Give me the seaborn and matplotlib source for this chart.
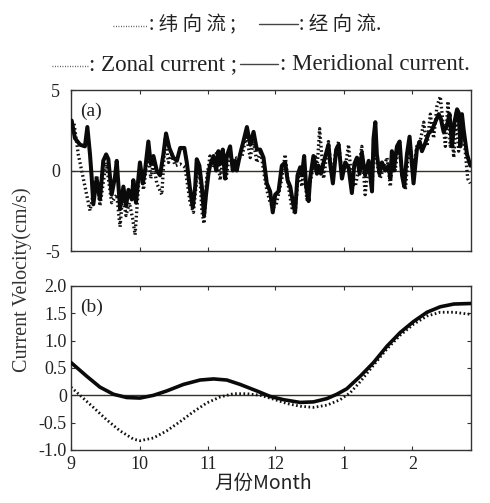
import numpy as np
import pandas as pd
import seaborn as sns
import matplotlib
matplotlib.use("Agg")
import matplotlib.pyplot as plt
from matplotlib.lines import Line2D

# ---------------- data (days since 1 Sep) ----------------
# panel (a): raw currents (cm/s)
a_mer_day = [0.3, 1.8, 4.1, 6.3, 7.4, 8.6, 9.4, 10.1, 11.6, 13.1, 14.6, 15.9, 16.9, 18.4, 19.9, 20.7,
             22.2, 23.7, 24.9, 26.0, 27.5, 28.2, 29.4, 30.5, 31.2, 32.5, 33.5, 35.0, 36.1, 37.3, 38.8,
             40.3, 41.8, 43.0, 44.5, 46.3, 47.9, 49.4, 51.3, 52.4, 53.9, 55.1, 56.2, 56.9, 58.1, 59.2,
             60.2, 61.1, 62.2, 62.9, 64.5, 65.7, 66.7, 67.5, 68.7, 69.7, 70.5, 72.0, 73.2, 74.3, 75.0,
             76.5, 78.0, 79.6, 81.1, 82.6, 84.1, 85.6, 87.1, 88.6, 90.1, 91.3, 92.4, 93.9, 95.4, 96.9,
             98.0, 99.2, 100.7, 101.4, 102.5, 103.7, 104.5, 105.5, 106.4, 107.5, 108.2, 109.7, 111.3,
             112.0, 113.1, 114.3, 116.5, 117.3, 118.5, 120.0, 121.1, 122.6, 124.1, 125.6, 127.1, 128.2,
             129.4, 130.6, 131.6, 133.1, 134.7, 136.2, 136.9, 137.7, 138.4, 139.6, 140.7, 142.2, 143.7,
             144.5, 145.2, 146.0, 147.5, 148.7, 149.8, 150.8, 152.0, 153.2, 155.0, 156.5, 157.8, 158.8,
             160.3, 161.8, 163.3, 164.8, 166.4, 167.4, 168.6, 170.1, 171.3, 172.4, 173.5, 174.7, 175.4,
             176.2, 176.9, 177.7, 179.2, 180.7]
a_mer_val = [3.1, 2.0, 1.6, 1.5, 2.7, 1.0, -0.5, -2.1, -0.5, -1.8, 0.6, 1.0, 0.7, -1.5, -0.4, 0.6,
             -2.4, -1.0, -2.2, -1.2, -1.8, -0.6, -2.0, -0.5, 0.5, -0.8, 0.0, 1.8, 0.4, 0.9, 0.0,
             -0.3, 1.0, 2.3, 1.4, 0.8, 0.6, 1.4, 1.4, 0.5, -1.2, -2.3, -1.0, 0.7, 0.3, -1.0,
             -2.8, -1.5, -0.2, 0.3, 0.9, 0.0, 1.2, 0.4, 1.3, -0.5, 0.9, 1.5, 0.0, 0.6, 0.0,
             1.0, 1.8, 2.7, 1.6, 2.4, 1.3, 1.3, 0.8, -0.8, -1.3, -2.6, -1.5, -1.3, 0.3, 0.5,
             -0.6, -1.0, -2.2, -2.6, -0.3, 0.2, -0.3, 0.9, -1.0, -1.9, -0.5, 0.9, -0.2,
             0.3, -0.2, 0.5, 1.6, 0.4, -0.8, 1.3, 1.6, -0.5, 0.5, 0.2, -1.4, 0.4,
             0.8, -0.2, 1.1, -0.3, 0.6, -1.3, 2.0, 3.0, 1.0, -0.2, 0.5, 0.0, 0.3,
             -0.5, 1.2, 0.0, 1.5, 1.8, -0.3, -1.0, 1.0, 2.1, -0.8, 1.3, 1.8, 1.2,
             1.7, 2.3, 2.5, 3.0, 3.5, 3.2, 2.4, 2.8, 3.5, 1.5, 3.0, 3.8, 3.6,
             1.5, 3.5, 2.5, 1.0, 0.3]

a_zon_day = [1.4, 3.3, 8.6, 11.6, 13.1, 15.9, 18.4, 20.7, 22.2, 23.4, 24.9, 26.4, 27.9, 29.0, 30.0,
             31.2, 32.8, 35.0, 36.1, 37.3, 38.8, 41.1, 42.6, 44.1, 45.6, 47.1, 49.4, 51.6, 53.9, 55.4,
             56.9, 58.1, 59.2, 60.2, 61.4, 62.9, 64.5, 66.0, 67.5, 69.0, 70.2, 72.0, 73.5, 75.0, 77.3,
             79.3, 81.1, 82.6, 84.1, 85.9, 87.1, 88.6, 90.1, 91.6, 93.1, 95.4, 96.9, 98.4, 99.9, 101.4,
             103.0, 104.5, 105.5, 106.7, 109.0, 110.5, 111.3, 112.5, 114.3, 116.5, 118.1, 119.6, 121.1,
             122.6, 124.1, 125.6, 127.1, 128.6, 130.1, 131.6, 133.1, 134.7, 136.2, 137.2, 138.4, 139.9,
             141.5, 143.0, 144.5, 145.7, 146.7, 148.2, 149.8, 151.3, 152.3, 153.5, 155.0, 156.5, 158.3,
             159.6, 161.1, 162.6, 164.1, 165.6, 167.1, 168.3, 169.4, 170.6, 171.6, 172.4, 173.2, 174.4,
             175.4, 176.9, 178.4, 179.5, 180.7]
a_zon_val = [2.9, 1.0, -2.5, -0.3, -2.2, 0.5, -2.0, -1.5, -3.5, -1.5, -2.8, -2.0, -3.0, -4.0, -2.0,
             0.3, -1.2, 1.2, -0.5, 0.5, -0.8, -1.5, 2.0, 0.5, 1.0, 0.3, 0.4, 0.2, -2.0, -2.6,
             -0.5, 0.2, -2.5, -3.3, -0.5, 0.9, 0.2, 1.2, -0.6, 1.0, -0.5, 1.3, 0.2, 0.8, 0.8,
             2.2, 0.8, 1.8, 0.5, 1.2, 0.0, -1.2, -2.0, -2.3, -2.0, -0.5, 1.0, -1.0, -2.3, -2.7,
             0.0, -1.0, 0.4, -1.8, -0.2, 1.0, 0.0, 2.6, -0.5, 1.8, -0.5, 1.0, 1.8,
             -0.3, 0.2, 1.6, -0.8, -1.0, 0.0, 1.5, -1.5, 0.5, -1.2, 1.8, 0.5, -0.5,
             0.2, 0.8, -1.0, 1.2, 0.0, 1.6, 0.0, -1.2, 0.5, 1.5, 0.0, 1.5, 2.0,
             3.0, 1.5, 3.5, 2.0, 4.0, 4.6, 3.0, 1.5, 4.3, 1.5, 2.2, 0.8, 3.6,
             1.2, 3.0, 1.2, -0.5, -0.8]

# panel (b): low-passed currents (cm/s)
b_mer_day = [0, 7.1, 13.1, 19.2, 25.2, 31.2, 37.3, 43.3, 50.9, 58.4, 64.5, 70.5, 76.5, 84.1, 90.1,
             96.2, 103.7, 109.7, 115.8, 120.3, 124.8, 130.9, 136.9, 143.0, 149.0, 155.0, 161.1, 167.1,
             173.2, 181.0]
b_mer_val = [0.6, 0.35, 0.15, 0.02, -0.04, -0.05, 0.0, 0.08, 0.2, 0.28, 0.3, 0.28, 0.2, 0.08, -0.02,
             -0.08, -0.13, -0.12, -0.06, 0.02, 0.12, 0.35, 0.6, 0.9, 1.15, 1.35, 1.52, 1.62,
             1.67, 1.68]
b_zon_day = [0, 4.1, 10.1, 16.2, 22.2, 28.2, 31.2, 37.3, 43.3, 49.4, 55.4, 61.4, 67.5, 73.5, 79.6,
             85.6, 91.6, 97.7, 103.7, 109.7, 115.8, 121.8, 126.4, 130.9, 136.9, 143.0, 149.0, 155.0,
             161.1, 167.1, 173.2, 181.0]
b_zon_val = [0.15, 0.0, -0.22, -0.45, -0.65, -0.8, -0.83, -0.78, -0.65, -0.48, -0.3, -0.14, -0.03,
             0.03, 0.03, 0.0, -0.07, -0.15, -0.2, -0.22, -0.18, -0.08, 0.05, 0.25, 0.55, 0.85, 1.1,
             1.3, 1.45, 1.52, 1.52, 1.48]

month_pos = [0, 31, 62, 92.5, 123.5, 154.5]
month_labels = ["9", "10", "11", "12", "1", "2"]

# ---------------- style ----------------
sns.set_theme(style="ticks")
plt.rcParams["font.family"] = ["Liberation Serif", "Noto Sans CJK SC", "DejaVu Sans"]
plt.rcParams["axes.edgecolor"] = "#333333"
plt.rcParams["axes.linewidth"] = 1.0

W, H = 490, 503
fig = plt.figure(figsize=(W / 100, H / 100), dpi=100)
fig.patch.set_facecolor("white")

def ax_rect(l, t, r, b):
    return [l / W, 1 - b / H, (r - l) / W, (b - t) / H]

ax1 = fig.add_axes(ax_rect(71, 90, 471, 251))
ax2 = fig.add_axes(ax_rect(71, 286, 471, 450))

dfa_m = pd.DataFrame({"day": a_mer_day, "v": a_mer_val})
dfa_z = pd.DataFrame({"day": a_zon_day, "v": a_zon_val})
dfb_m = pd.DataFrame({"day": b_mer_day, "v": b_mer_val})
dfb_z = pd.DataFrame({"day": b_zon_day, "v": b_zon_val})

for ax in (ax1, ax2):
    ax.axhline(0, color="#3a3020", lw=1.0, zorder=1)

sns.lineplot(data=dfa_z, x="day", y="v", ax=ax1, color="#111111", lw=2.4,
             linestyle=(0, (0.5, 0.8)), estimator=None, sort=False, zorder=2)
sns.lineplot(data=dfa_m, x="day", y="v", ax=ax1, color="#0a0a0a", lw=2.9,
             estimator=None, sort=False, zorder=3)
sns.lineplot(data=dfb_z, x="day", y="v", ax=ax2, color="#111111", lw=2.0,
             linestyle=(0, (0.6, 0.9)), estimator=None, sort=False, zorder=2)
sns.lineplot(data=dfb_m, x="day", y="v", ax=ax2, color="#0a0a0a", lw=2.6,
             estimator=None, sort=False, zorder=3)

for ax in (ax1, ax2):
    ax.set_xlim(0, 181)
    ax.set_xlabel("")
    ax.set_ylabel("")
    ax.set_xticks(month_pos)
    ax.tick_params(direction="in", length=3, width=0.8, top=True, right=True,
                   labelsize=13, colors="#333333", labelcolor="#222222")
    for s in ax.spines.values():
        s.set_visible(True)

ax1.set_ylim(-5, 5)
ax1.set_yticks([-5, 0, 5])
ax1.set_yticklabels(["-5", "0", "5"])
ax1.set_xticklabels([])
ax1.tick_params(axis="y", pad=8)

ax2.set_ylim(-1.0, 2.0)
ax2.set_yticks([-1.0, -0.5, 0, 0.5, 1.0, 1.5, 2.0])
ax2.set_yticklabels(["-1.0", "-0.5", "0", "0.5", "1.0", "1.5", "2.0"])
ax2.set_xticklabels(month_labels)
ax2.tick_params(axis="y", pad=3)
ax2.tick_params(axis="x", pad=4)

ax1.text(0.022, 0.92, "(a)", transform=ax1.transAxes, fontsize=14, va="top", ha="left",
         color="#222222")
ax2.text(0.022, 0.92, "(b)", transform=ax2.transAxes, fontsize=14, va="top", ha="left",
         color="#222222")

fig.text(22 / W, 1 - 280 / H, "Current Velocity(cm/s)", rotation=90, ha="center", va="center",
         fontsize=14.5, color="#333333")
fig.text(263 / W, 1 - 483 / H, "月份Month", ha="center", va="center", fontsize=14,
         color="#222222", family=["Noto Sans CJK SC", "Liberation Serif"])

# header legend
def hline(x0, x1, y, dotted):
    ls = (0, (0.6, 1.2)) if dotted else "-"
    fig.add_artist(Line2D([x0 / W, x1 / W], [1 - y / H, 1 - y / H], color="#444444",
                          lw=1.0, linestyle=ls, transform=fig.transFigure))

hline(113, 148, 26, True)
fig.text(149 / W, 1 - 25 / H, ": 纬 向 流 ;", ha="left", va="center", fontsize=14,
         color="#222222", family=["Noto Sans CJK SC", "DejaVu Sans"])
hline(259, 298, 24, False)
fig.text(299 / W, 1 - 25 / H, ": 经 向 流.", ha="left", va="center", fontsize=14,
         color="#222222", family=["Noto Sans CJK SC", "DejaVu Sans"])

renderer = fig.canvas.get_renderer()
hline(52, 88, 66, True)
t1 = fig.text(89 / W, 1 - 65 / H, ": Zonal current ;", ha="left", va="center", fontsize=16.5,
              color="#222222", family=["Liberation Serif"])
x_end = t1.get_window_extent(renderer).x1
hline(x_end + 3, x_end + 41, 64, False)
fig.text((x_end + 43) / W, 1 - 65 / H, ": Meridional current.", ha="left", va="center",
         fontsize=16.5, color="#222222", family=["Liberation Serif"])

fig.savefig("out.png", dpi=100, facecolor="white")
